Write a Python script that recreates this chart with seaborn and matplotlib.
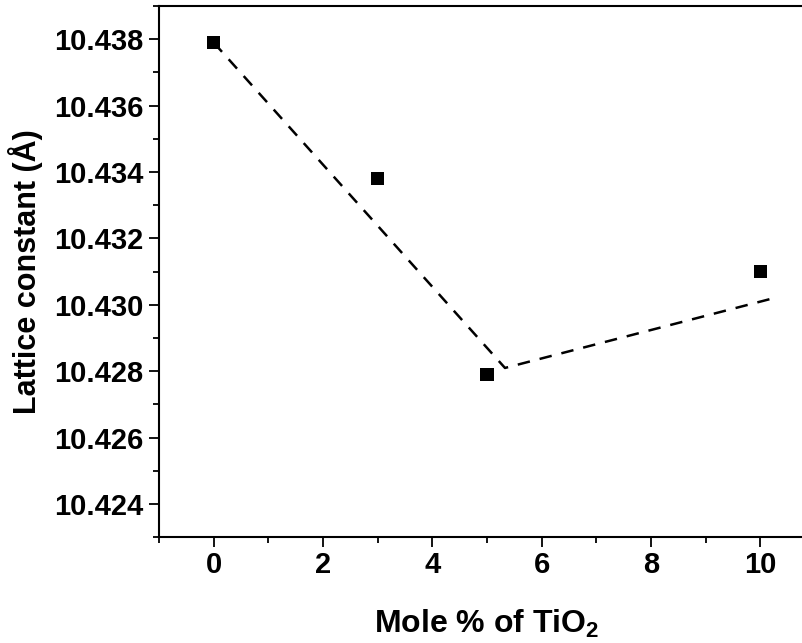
import matplotlib
matplotlib.use("Agg")
import matplotlib.pyplot as plt
import seaborn as sns
import pandas as pd
from matplotlib.ticker import FixedLocator

# Data
mole_pct = [0, 3, 5, 10]
lattice = [10.4379, 10.4338, 10.4279, 10.4310]
trend_x = [0, 5.33, 10.24]
trend_y = [10.4379, 10.4281, 10.4302]
x_major = [0, 2, 4, 6, 8, 10]
x_minor = [-1, 1, 3, 5, 7, 9, 11]
y_major = [10.424, 10.426, 10.428, 10.430, 10.432, 10.434, 10.436, 10.438]
y_minor = [10.423, 10.425, 10.427, 10.429, 10.431, 10.433, 10.435, 10.437, 10.439]

sns.set_style("ticks")
plt.rcParams['font.family'] = ['Liberation Sans', 'DejaVu Sans']
plt.rcParams['font.weight'] = 'bold'
plt.rcParams['mathtext.fontset'] = 'custom'
plt.rcParams['mathtext.rm'] = 'Liberation Sans:bold'
plt.rcParams['mathtext.it'] = 'Liberation Sans:bold'
plt.rcParams['mathtext.bf'] = 'Liberation Sans:bold'
plt.rcParams['text.color'] = 'black'
plt.rcParams['axes.labelcolor'] = 'black'

W, H = 803, 643
fig = plt.figure(figsize=(W / 100, H / 100), dpi=100)
left, right, bottom, top = 159, 159 + 12 * 54.66, 537.3, 6
ax = fig.add_axes([left / W, (H - bottom) / H, (right - left) / W, (bottom - top) / H])

pts = pd.DataFrame({"x": mole_pct, "y": lattice})
trend = pd.DataFrame({"x": trend_x, "y": trend_y})

sns.lineplot(data=trend, x="x", y="y", ax=ax, color="black", linewidth=1.8,
             sort=False, estimator=None, dashes=False)
ax.lines[0].set_dashes((5, 4))
sns.scatterplot(data=pts, x="x", y="y", ax=ax, marker="s", s=90, color="black",
                edgecolor="none", linewidth=0, zorder=3)

ax.set_xlim(-1, 11)
ax.set_ylim(10.423, 10.439)
ax.xaxis.set_major_locator(FixedLocator(x_major))
ax.xaxis.set_minor_locator(FixedLocator(x_minor))
ax.yaxis.set_major_locator(FixedLocator(y_major))
ax.yaxis.set_minor_locator(FixedLocator(y_minor))
ax.set_xticklabels([str(v) for v in x_major])
ax.set_yticklabels([f"{v:.3f}" for v in y_major])

for s in ax.spines.values():
    s.set_linewidth(1.5)
    s.set_color("black")
ax.spines['right'].set_visible(False)
ax.tick_params(axis='both', which='major', direction='out', length=7, width=1.3,
               labelsize=21, colors='black')
ax.tick_params(axis='both', which='minor', direction='out', length=4, width=1.3,
               colors='black')
ax.tick_params(axis='x', which='major', pad=3)
ax.tick_params(axis='y', which='major', pad=4)

ax.set_xlabel("Mole % of TiO$_2$", fontsize=23, fontweight='bold', labelpad=21,
              color='black')
ax.set_ylabel("Lattice constant (Å)", fontsize=22, fontweight='bold', labelpad=8,
              color='black')

fig.savefig("out.png", dpi=100)
